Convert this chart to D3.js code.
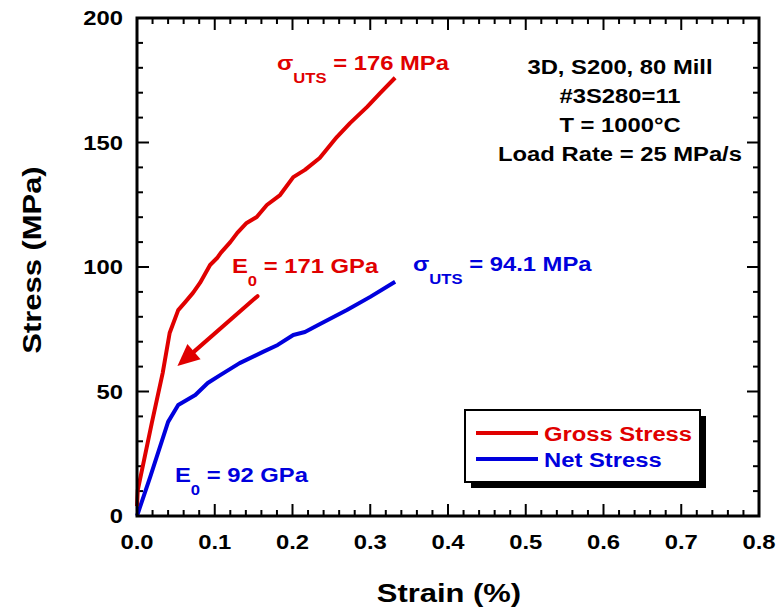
<!DOCTYPE html>
<html lang="en">
<head>
<meta charset="UTF-8">
<title>Stress-Strain</title>
<script src="https://cdn.jsdelivr.net/npm/d3@7"></script>
<style>
  body { margin: 0; background: #fff; }
  text { font-family: "Liberation Sans", Arial, sans-serif; font-weight: bold; }
</style>
</head>
<body>
<svg width="779" height="609"></svg>
<script>
// gross stress curve (strain %, MPa)
const grossStrain = [0, 0.001, 0.019, 0.033, 0.042, 0.053, 0.062, 0.072, 0.081, 0.094, 0.103, 0.108, 0.120, 0.129, 0.141, 0.154, 0.167, 0.184, 0.201, 0.216, 0.235, 0.257, 0.274, 0.296, 0.313, 0.332];
const grossStress = [4, 10.4, 37.3, 57.4, 73.5, 82.7, 85.9, 89.6, 93.6, 100.8, 103.6, 105.8, 110.0, 113.7, 117.7, 120.1, 124.9, 128.9, 136.1, 139.0, 143.8, 152.2, 157.8, 164.3, 169.9, 176];
// net stress curve
const netStrain = [0, 0.017, 0.040, 0.053, 0.064, 0.075, 0.091, 0.107, 0.132, 0.162, 0.181, 0.201, 0.216, 0.233, 0.270, 0.300, 0.332];
const netStress = [0, 15.7, 37.8, 44.6, 46.6, 48.6, 53.4, 56.6, 61.4, 65.9, 68.7, 72.7, 73.9, 76.7, 82.7, 88.0, 94.1];

const xTicks = [0, 0.1, 0.2, 0.3, 0.4, 0.5, 0.6, 0.7, 0.8];
const yTicks = [0, 50, 100, 150, 200];
const infoLines = ["3D, S200, 80 Mill", "#3S280=11", "T = 1000°C", "Load Rate = 25 MPa/s"];

const red = "#e00000", blue = "#0000dd";
const SX = 1.19; // the original font runs wider than Liberation Sans

const svg = d3.select("svg");
const pl = 137, pr = 759, pt = 18, pb = 516;

const x = d3.scaleLinear().domain([0, 0.8]).range([pl, pr]);
const y = d3.scaleLinear().domain([0, 200]).range([pb, pt]);

// text in a horizontally stretched group
function txt(px, py, size, anchor, rot) {
  return svg.append("g")
    .attr("transform", `translate(${px},${py})${rot ? " rotate(-90)" : ""} scale(${SX},1)`)
    .append("text").attr("font-size", size).attr("text-anchor", anchor || "start");
}

// ticks, inward on all sides
const g = svg.append("g").attr("stroke", "#000").attr("stroke-width", 2);
d3.range(0, 0.8001, 0.02).forEach((v, i) => {
  const len = i % 5 === 0 ? 12 : 6;
  g.append("line").attr("x1", x(v)).attr("x2", x(v)).attr("y1", pb).attr("y2", pb - len);
  g.append("line").attr("x1", x(v)).attr("x2", x(v)).attr("y1", pt).attr("y2", pt + len);
});
d3.range(0, 200.1, 10).forEach((v, i) => {
  const len = i % 5 === 0 ? 12 : 6;
  g.append("line").attr("x1", pl).attr("x2", pl + len).attr("y1", y(v)).attr("y2", y(v));
  g.append("line").attr("x1", pr).attr("x2", pr - len).attr("y1", y(v)).attr("y2", y(v));
});

xTicks.forEach(d => txt(x(d), 549, 20, "middle").text(d.toFixed(1)));
yTicks.forEach(d => txt(123, y(d) + 7, 20, "end").text(d));

txt(449, 602, 26, "middle").text("Strain (%)");
txt(41, 260, 26, "middle", true).text("Stress (MPa)");

// curves
const line = d3.line().x(d => x(d[0])).y(d => y(d[1]));
svg.append("path").datum(d3.zip(netStrain, netStress)).attr("d", line)
  .attr("fill", "none").attr("stroke", blue).attr("stroke-width", 4).attr("stroke-linejoin", "round");
svg.append("path").datum(d3.zip(grossStrain, grossStress)).attr("d", line)
  .attr("fill", "none").attr("stroke", red).attr("stroke-width", 4).attr("stroke-linejoin", "round");

// frame
svg.append("rect").attr("x", pl).attr("y", pt).attr("width", pr - pl).attr("height", pb - pt)
  .attr("fill", "none").attr("stroke", "#000").attr("stroke-width", 3);

// arrow for E0
const a0 = [x(0.155), y(88.3)], a1 = [x(0.052), y(60.2)];
const ang = Math.atan2(a1[1] - a0[1], a1[0] - a0[0]);
const hl = 22, hw = 10;
const bx = a1[0] - hl * Math.cos(ang), by = a1[1] - hl * Math.sin(ang);
svg.append("line").attr("x1", a0[0]).attr("y1", a0[1]).attr("x2", bx).attr("y2", by)
  .attr("stroke", red).attr("stroke-width", 4).attr("stroke-linecap", "round");
svg.append("path")
  .attr("d", `M${a1[0]},${a1[1]} L${bx + hw * Math.sin(ang)},${by - hw * Math.cos(ang)} L${bx - hw * Math.sin(ang)},${by + hw * Math.cos(ang)} Z`)
  .attr("fill", red);

// annotations with subscripts
function label(px, py, main, sub, rest, color) {
  const t = txt(px, py, 20).attr("fill", color);
  t.append("tspan").text(main);
  t.append("tspan").attr("font-size", 14).attr("dy", 13).text(sub);
  t.append("tspan").attr("dy", -13).text(" " + rest);
}
label(277, 70, "σ", "UTS", "= 176 MPa", red);
label(232, 273, "E", "0", "= 171 GPa", red);
label(413, 271, "σ", "UTS", "= 94.1 MPa", blue);
label(175, 482, "E", "0", "= 92 GPa", blue);

infoLines.forEach((d, i) => txt(620, 74 + i * 29, 20, "middle").text(d));

// legend
const lg = svg.append("g");
lg.append("rect").attr("x", 471).attr("y", 416).attr("width", 235).attr("height", 72).attr("fill", "#000");
lg.append("rect").attr("x", 465).attr("y", 410).attr("width", 235).attr("height", 72)
  .attr("fill", "#fff").attr("stroke", "#000").attr("stroke-width", 2);
[["Gross Stress", red], ["Net Stress", blue]].forEach(([name, c], i) => {
  const ly = 433 + i * 26;
  lg.append("line").attr("x1", 476).attr("x2", 538).attr("y1", ly).attr("y2", ly)
    .attr("stroke", c).attr("stroke-width", 4);
  txt(544, ly + 8, 20).attr("fill", c).text(name);
});
</script>
</body>
</html>
